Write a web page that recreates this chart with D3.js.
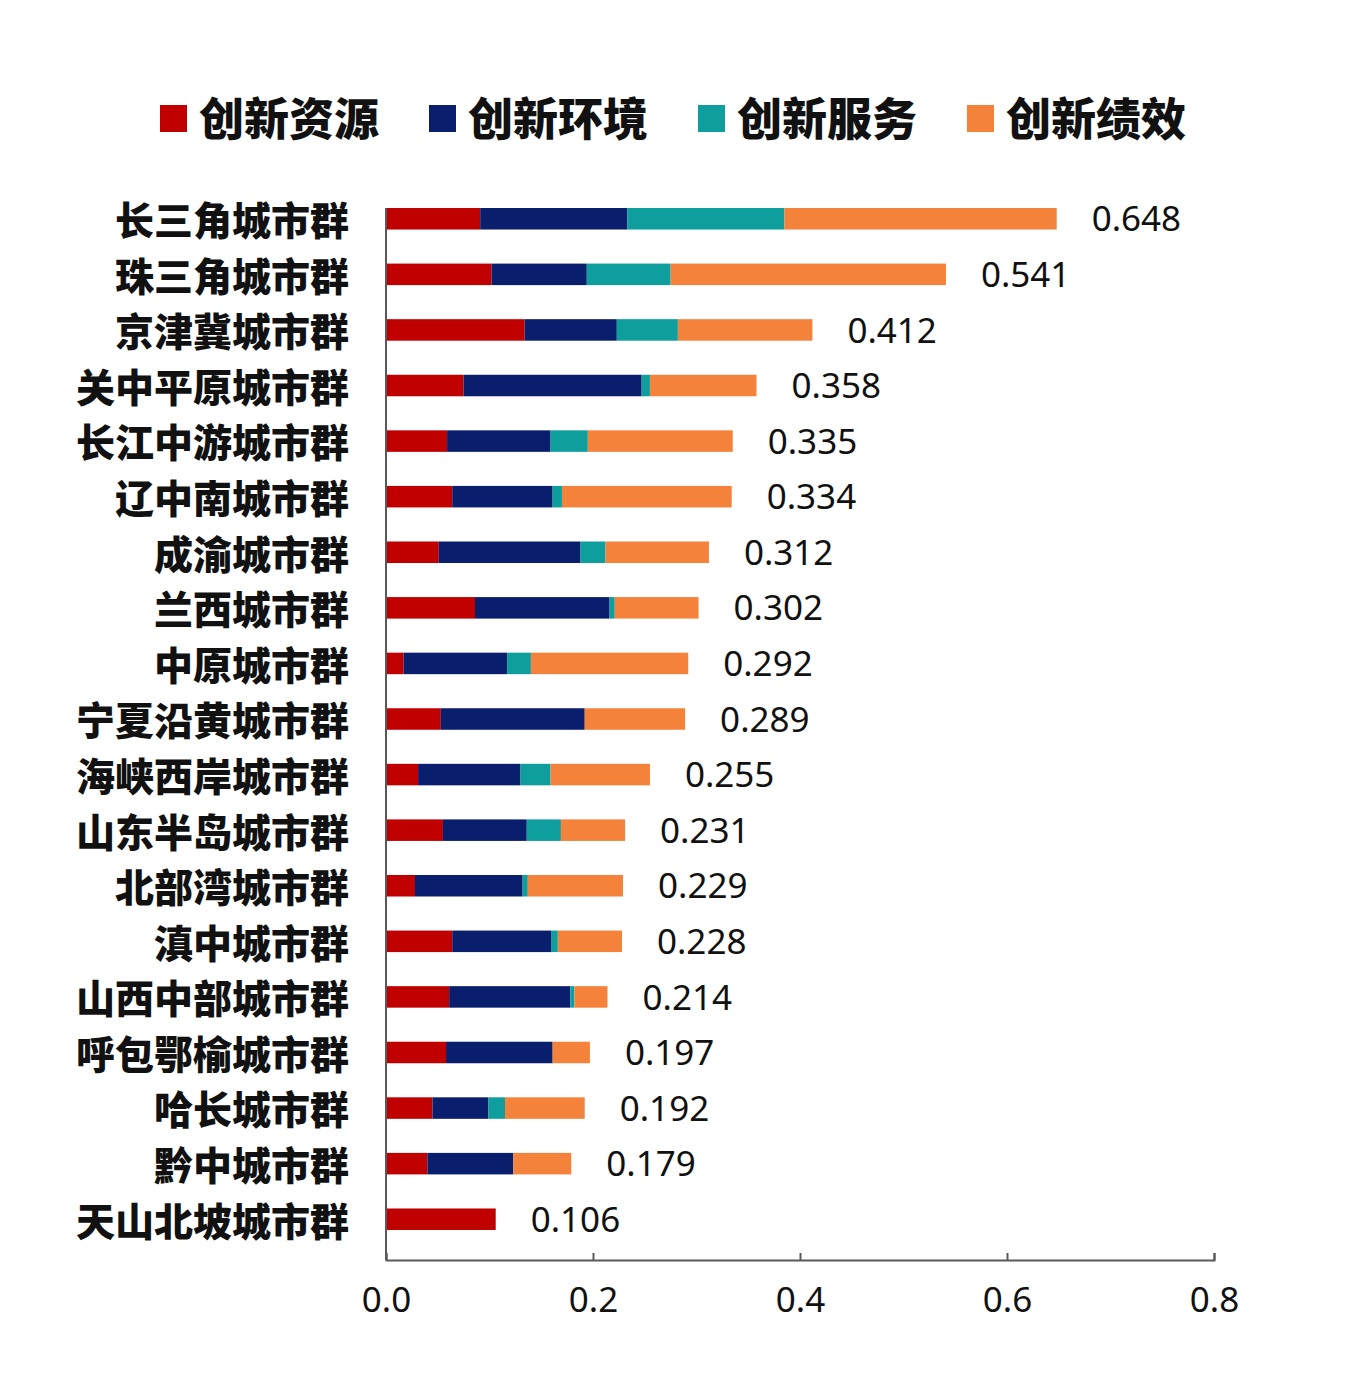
<!DOCTYPE html>
<html>
<head>
<meta charset="utf-8">
<script src="https://cdn.jsdelivr.net/npm/d3@7"></script>
<style>
  body { margin: 0; background: #fff; }
  text { font-family: "Noto Sans CJK SC", "Noto Sans", sans-serif; }
</style>
</head>
<body>
<div id="chart"></div>
<script>
const categories = ["长三角城市群", "珠三角城市群", "京津冀城市群", "关中平原城市群", "长江中游城市群",
    "辽中南城市群", "成渝城市群", "兰西城市群", "中原城市群", "宁夏沿黄城市群", "海峡西岸城市群",
    "山东半岛城市群", "北部湾城市群", "滇中城市群", "山西中部城市群", "呼包鄂榆城市群", "哈长城市群",
    "黔中城市群", "天山北坡城市群"];

const resource    = [0.091, 0.102, 0.134, 0.075, 0.059, 0.064, 0.051, 0.086, 0.017, 0.053, 0.031, 0.055, 0.028, 0.064, 0.061, 0.058, 0.045, 0.040, 0.106];
const environment = [0.142, 0.092, 0.089, 0.172, 0.100, 0.097, 0.137, 0.130, 0.100, 0.139, 0.099, 0.081, 0.104, 0.096, 0.117, 0.103, 0.054, 0.083, 0.000];
const service     = [0.152, 0.081, 0.059, 0.008, 0.036, 0.009, 0.024, 0.005, 0.023, 0.000, 0.029, 0.033, 0.005, 0.006, 0.004, 0.000, 0.016, 0.000, 0.000];
const performance = [0.263, 0.266, 0.130, 0.103, 0.140, 0.164, 0.100, 0.081, 0.152, 0.097, 0.096, 0.062, 0.092, 0.062, 0.032, 0.036, 0.077, 0.056, 0.000];
const totals      = [0.648, 0.541, 0.412, 0.358, 0.335, 0.334, 0.312, 0.302, 0.292, 0.289, 0.255, 0.231, 0.229, 0.228, 0.214, 0.197, 0.192, 0.179, 0.106];

const seriesNames = ["创新资源", "创新环境", "创新服务", "创新绩效"];
const seriesKeys = ["resource", "environment", "service", "performance"];
const colors = ["#C00000", "#0A1E6E", "#0E9E9E", "#F5823A"];
const xTicks = [0, 0.2, 0.4, 0.6, 0.8];

const width = 1346;
const height = 1378;
const plot = {left: 386, right: 1214, top: 178, bottom: 1260};

const svg = d3.select("#chart")
    .append("svg")
    .attr("width", width)
    .attr("height", height);

svg.append("rect").attr("width", width).attr("height", height).attr("fill", "#fff");

// rows for the stack
const rows = categories.map((c, i) => ({
    name: c,
    resource: resource[i],
    environment: environment[i],
    service: service[i],
    performance: performance[i],
    total: totals[i]
}));

const stacked = d3.stack().keys(seriesKeys)(rows);

const xScale = d3.scaleLinear()
    .domain([0, 0.8])
    .range([plot.left, plot.right]);

const yScale = d3.scaleBand()
    .domain(categories)
    .range([plot.top, plot.bottom])
    .paddingInner(0.613)
    .paddingOuter(0.54);

const color = d3.scaleOrdinal().domain(seriesKeys).range(colors);

// bars
svg.append("g")
    .selectAll("g")
    .data(stacked)
    .join("g")
    .attr("fill", d => color(d.key))
    .selectAll("rect")
    .data(d => d)
    .join("rect")
    .attr("x", d => xScale(d[0]))
    .attr("y", d => yScale(d.data.name))
    .attr("width", d => xScale(d[1]) - xScale(d[0]))
    .attr("height", yScale.bandwidth());

// x axis
const xAxis = svg.append("g")
    .attr("transform", `translate(0,${plot.bottom})`)
    .call(d3.axisBottom(xScale).tickValues(xTicks).tickSize(-7).tickPadding(27).tickFormat(d3.format(".1f")));
xAxis.selectAll("path, line").attr("stroke", "#595959").attr("stroke-width", 2);
xAxis.selectAll("text")
    .attr("fill", "#111")
    .style("font-family", "'Noto Sans', sans-serif")
    .style("font-size", "35px");

// y axis
svg.append("line")
    .attr("x1", plot.left).attr("x2", plot.left)
    .attr("y1", yScale(categories[0]))
    .attr("y2", plot.bottom)
    .attr("stroke", "#595959")
    .attr("stroke-width", 2);

svg.append("g")
    .selectAll("text")
    .data(categories)
    .join("text")
    .attr("x", plot.left - 37)
    .attr("y", d => yScale(d) + yScale.bandwidth() / 2)
    .attr("dy", "0.42em")
    .attr("text-anchor", "end")
    .attr("fill", "#111")
    .style("font-size", "39px")
    .style("font-weight", 900)
    .text(d => d);

// value labels
svg.append("g")
    .selectAll("text")
    .data(rows)
    .join("text")
    .attr("x", d => xScale(d.total) + 35)
    .attr("y", d => yScale(d.name) + yScale.bandwidth() / 2)
    .attr("dy", "0.36em")
    .attr("fill", "#111")
    .style("font-family", "'Noto Sans', sans-serif")
    .style("font-size", "35px")
    .text(d => d3.format(".3f")(d.total));

// legend
const legend = svg.append("g")
    .selectAll("g")
    .data(seriesNames)
    .join("g")
    .attr("transform", (d, i) => `translate(${160 + i * 269},105)`);

legend.append("rect")
    .attr("width", 27)
    .attr("height", 27)
    .attr("fill", (d, i) => colors[i]);

legend.append("text")
    .attr("x", 39)
    .attr("y", 14)
    .attr("dy", "0.38em")
    .attr("fill", "#111")
    .style("font-size", "45px")
    .style("font-weight", 900)
    .text(d => d);
</script>
</body>
</html>
